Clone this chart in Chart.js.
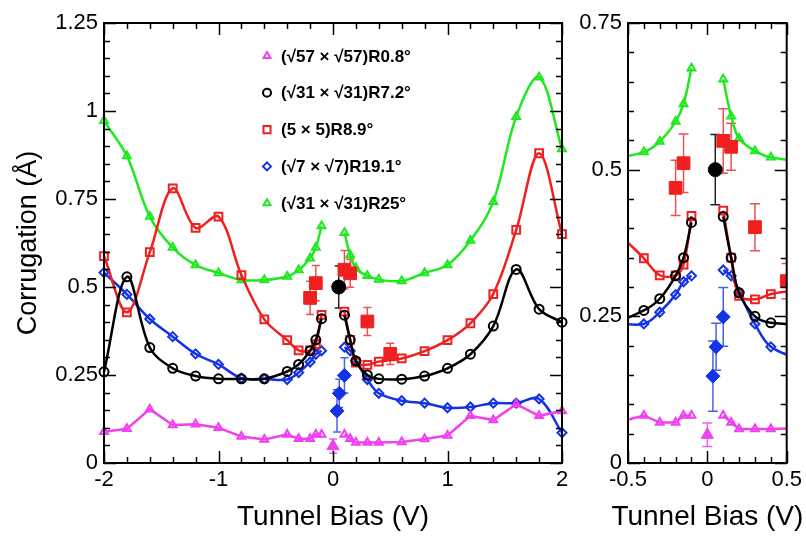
<!DOCTYPE html>
<html><head><meta charset="utf-8">
<script src="https://cdn.jsdelivr.net/npm/chart.js@4/dist/chart.umd.min.js"></script>
<style>
html,body{margin:0;padding:0;background:#fff;width:806px;height:537px;overflow:hidden}
#main{position:absolute;left:0;top:0}
#inset{position:absolute;left:575px;top:0}
</style></head><body>
<canvas id="main" width="575" height="537"></canvas>
<canvas id="inset" width="231" height="537"></canvas>
<script>
// ---- data (tunnel bias in V, corrugation in Å) ----
const bias = [-2,-1.8,-1.6,-1.4,-1.2,-1,-0.8,-0.6,-0.4,-0.3,-0.2,-0.15,-0.1,0.1,0.15,0.2,0.3,0.4,0.6,0.8,1,1.2,1.4,1.6,1.8,2];
const corrR08  = [0.089,0.097,0.153,0.108,0.110,0.100,0.075,0.067,0.081,0.069,0.069,0.081,0.081, 0.081,0.069,0.058,0.058,0.058,0.060,0.068,0.078,0.134,0.122,0.167,0.134,0.148];
const corrR72  = [0.259,0.529,0.328,0.269,0.247,0.239,0.239,0.239,0.260,0.280,0.319,0.350,0.410, 0.420,0.350,0.290,0.250,0.239,0.238,0.247,0.269,0.309,0.389,0.550,0.437,0.400];
const corrR89  = [0.588,0.428,0.599,0.780,0.668,0.700,0.534,0.408,0.349,0.320,0.320,0.338,0.421, 0.430,0.350,0.285,0.279,0.288,0.297,0.318,0.349,0.397,0.480,0.662,0.880,0.650];
const corrR191 = [0.541,0.479,0.409,0.359,0.310,0.280,0.241,0.239,0.237,0.257,0.287,0.309,0.319, 0.329,0.319,0.291,0.237,0.198,0.177,0.170,0.157,0.159,0.170,0.170,0.182,0.086];
const corrR25  = [0.972,0.872,0.700,0.612,0.5625,0.540,0.520,0.520,0.530,0.548,0.582,0.612,0.673, 0.654,0.591,0.553,0.532,0.521,0.517,0.540,0.5625,0.632,0.742,0.984,1.096,0.892];

// experimental points with error bars
const expBiasR08 = [0];            const expR08 = [0.048];          const expErrR08 = [0.02];
const expBiasR72 = [0.05];         const expR72 = [0.50];           const expErrR72 = [0.06];
const expBiasR89 = [-0.2,-0.15,0.1,0.15,0.3,0.5];
const expR89     = [0.469,0.511,0.549,0.539,0.402,0.310];
const expErrR89  = [0.047,0.050,0.055,0.040,0.040,0.030];
const expBiasR191 = [0.035,0.055,0.1]; const expR191 = [0.148,0.198,0.249]; const expErrR191 = [0.06,0.04,0.05];

const legendLabels = ['(\u221A57 \u00D7 \u221A57)R0.8\u00B0','(\u221A31 \u00D7 \u221A31)R7.2\u00B0','(5 \u00D7 5)R8.9\u00B0','(\u221A7 \u00D7 \u221A7)R19.1\u00B0','(\u221A31 \u00D7 \u221A31)R25\u00B0'];
const mainXTickLabels = ['-2','-1','0','1','2'];
const mainYTickLabels = ['0','0.25','0.5','0.75','1','1.25'];
const insetXTickLabels = ['-0.5','0','0.5'];
const insetYTickLabels = ['0','0.25','0.5','0.75'];
const xTitle = 'Tunnel Bias (V)';
const yTitle = 'Corrugation (\u00C5)';

// ---- styles ----
const C = {mag:'#f040f0', blk:'#000000', red:'#f02020', blu:'#1432e6', grn:'#1ee81e'};
const FONT = "'Liberation Sans', Arial, sans-serif";

function toPoints(xs, ys){
  const pts = [];
  xs.forEach((x,i)=>{
    if (i>0 && xs[i-1]<0 && x>0) pts.push({x:0, y:null});
    pts.push({x:x, y:ys[i]});
  });
  return pts;
}
function expPoints(xs, ys){ return xs.map((x,i)=>({x:x, y:ys[i]})); }

const series = [
  {ys:corrR08,  color:C.mag, style:'triangle', r:4.5, tension:0},
  {ys:corrR72,  color:C.blk, style:'circle',   r:4.5, tension:0.35},
  {ys:corrR89,  color:C.red, style:'rect',     r:5.5, tension:0.35},
  {ys:corrR191, color:C.blu, style:'rectRot',  r:4.5, tension:0.35},
  {ys:corrR25,  color:C.grn, style:'triangle', r:4.5, tension:0.35}
];
const exps = [
  {xs:expBiasR08, ys:expR08, err:expErrR08, color:C.mag, bar:'#f060f0', style:'triangle', r:7},
  {xs:expBiasR72, ys:expR72, err:expErrR72, color:C.blk, bar:'#222222', style:'circle', r:7},
  {xs:expBiasR89, ys:expR89, err:expErrR89, color:C.red, bar:'#f05050', style:'rect', r:9},
  {xs:expBiasR191, ys:expR191, err:expErrR191, color:C.blu, bar:'#4a60f0', style:'rectRot', r:7}
];

function buildDatasets(clip){
  const ds = [];
  exps.forEach(e=>{
    ds.push({type:'scatter', data:expPoints(e.xs,e.ys), errorBars:e.err, barColor:e.bar,
      showLine:false, pointStyle:e.style, pointRadius:e.r, backgroundColor:e.color,
      borderColor:e.color, borderWidth:1, clip:clip});
  });
  series.forEach(s=>{
    ds.push({type:'line', data:toPoints(bias, s.ys), borderColor:s.color, backgroundColor:'rgba(255,255,255,0)',
      borderWidth:2.5, tension:s.tension, spanGaps:false, pointStyle:s.style, pointRadius:s.r,
      pointBorderWidth:2, pointBorderColor:s.color, pointBackgroundColor:'rgba(255,255,255,0)', clip:clip});
  });
  return ds;
}

const errorBarPlugin = {
  id:'errorBars',
  beforeDatasetsDraw(chart, args, opts){
    const {ctx} = chart; const y = chart.scales.y;
    ctx.save();
    const ca = chart.chartArea;
    ctx.beginPath(); ctx.rect(ca.left, ca.top, ca.right-ca.left, ca.bottom-ca.top); ctx.clip();
    chart.data.datasets.forEach((d,di)=>{
      if (!d.errorBars) return;
      const meta = chart.getDatasetMeta(di);
      ctx.strokeStyle = d.barColor; ctx.lineWidth = 1.5;
      d.data.forEach((p,i)=>{
        const px = meta.data[i].x;
        const y1 = y.getPixelForValue(p.y + d.errorBars[i]);
        const y2 = y.getPixelForValue(p.y - d.errorBars[i]);
        const w = opts.cap/2;
        ctx.beginPath();
        ctx.moveTo(px,y1); ctx.lineTo(px,y2);
        ctx.moveTo(px-w,y1); ctx.lineTo(px+w,y1);
        ctx.moveTo(px-w,y2); ctx.lineTo(px+w,y2);
        ctx.stroke();
      });
    });
    ctx.restore();
  }
};

const framePlugin = {
  id:'frame',
  afterDraw(chart, args, o){
    const {ctx, chartArea:{left,right,top,bottom}, scales:{x,y}} = chart;
    ctx.save();
    ctx.strokeStyle = '#000'; ctx.lineWidth = 1.5;
    ctx.beginPath();
    const nx = Math.round((o.xMax-o.xMin)/o.xMinor);
    for (let i=0;i<=nx;i++){
      const v = o.xMin + i*o.xMinor;
      const q = v/o.xStep; const major = Math.abs(q-Math.round(q))<1e-6;
      const L = major?12:6; const px = Math.round(x.getPixelForValue(v))+0.5;
      ctx.moveTo(px,bottom); ctx.lineTo(px,bottom-L);
      ctx.moveTo(px,top); ctx.lineTo(px,top+L);
    }
    const ny = Math.round((o.yMax-o.yMin)/o.yMinor);
    for (let i=0;i<=ny;i++){
      const v = o.yMin + i*o.yMinor;
      const q = v/o.yStep; const major = Math.abs(q-Math.round(q))<1e-6;
      const L = major?12:6; const py = Math.round(y.getPixelForValue(v))+0.5;
      ctx.moveTo(left,py); ctx.lineTo(left+L,py);
      ctx.moveTo(right,py); ctx.lineTo(right-L,py);
    }
    ctx.stroke();
    ctx.lineWidth = 2;
    ctx.strokeRect(left, top, right-left, bottom-top);
    // free-running x title (allowed to overflow the canvas edge, as in the source)
    if (o.ownTitle){
      ctx.font = '28px ' + FONT; ctx.fillStyle = '#000';
      ctx.textAlign = 'center'; ctx.textBaseline = 'middle';
      ctx.fillText(xTitle, (left+right)/2, chart.height - 3 - 28*1.2/2);
    }
    ctx.restore();
  }
};

const legendPlugin = {
  id:'customLegend',
  afterDraw(chart, args, o){
    if (!o.show) return;
    const ctx = chart.ctx;
    ctx.save();
    ctx.font = 'bold 17px ' + FONT;
    ctx.textBaseline = 'middle'; ctx.textAlign = 'left'; ctx.fillStyle = '#000';
    series.forEach((s,i)=>{
      const yy = o.y0 + i*o.dy;
      ctx.strokeStyle = s.color; ctx.lineWidth = 2; ctx.fillStyle = 'rgba(255,255,255,0)';
      Chart.helpers.drawPoint(ctx, {pointStyle:s.style, radius:s.r-0.5, borderWidth:2}, o.mx, yy);
      ctx.fillStyle = '#000';
      ctx.fillText(legendLabels[i], o.tx, yy+1);
    });
    ctx.restore();
  }
};

function makeChart(id, cfg){
  const frameOpts = {xMin:cfg.xMin, xMax:cfg.xMax, xStep:cfg.xStep, xMinor:cfg.xMinor,
                     yMin:cfg.yMin, yMax:cfg.yMax, yStep:cfg.yStep, yMinor:cfg.yMinor, ownTitle:cfg.ownTitle};
  return new Chart(document.getElementById(id), {
    data:{datasets:buildDatasets(cfg.clip)},
    options:{
      responsive:false, animation:false, devicePixelRatio:1, events:[],
      layout:{padding:{left:0, top:23, right:cfg.padRight, bottom:0}},
      plugins:{legend:{display:false}, tooltip:{enabled:false},
        frame:frameOpts, errorBars:{cap:cfg.cap}, customLegend:cfg.legend},
      scales:{
        x:{type:'linear', min:cfg.xMin, max:cfg.xMax,
           afterFit(s){ s.height = 74; },
           afterBuildTicks(s){ s.ticks = cfg.xLabels.map((l,i)=>({value: cfg.xMin + i*cfg.xStep})); },
           ticks:{stepSize:cfg.xStep, padding:4, color:'#000', font:{size:22, family:FONT},
                  maxRotation:0, autoSkip:false, callback:(v,i)=>cfg.xLabels[i]},
           grid:{display:false, drawTicks:false}, border:{display:false},
           title:{display:!cfg.ownTitle, text:xTitle, color:'#000', font:{size:28, family:FONT}, padding:{top:0,bottom:3}}},
        y:{type:'linear', min:cfg.yMin, max:cfg.yMax,
           afterFit(s){ s.width = cfg.leftW; },
           afterBuildTicks(s){ s.ticks = cfg.yLabels.map((l,i)=>({value: cfg.yMin + i*cfg.yStep})); },
           ticks:{stepSize:cfg.yStep, padding:6, color:'#000', font:{size:22, family:FONT},
                  autoSkip:false, callback:(v,i)=>cfg.yLabels[i]},
           grid:{display:false, drawTicks:false}, border:{display:false},
           title:{display:cfg.yTitle, text:yTitle, color:'#000', font:{size:27, family:FONT}, padding:{top:12,bottom:0}}}
      }
    },
    plugins:[errorBarPlugin, framePlugin, legendPlugin]
  });
}

makeChart('main', {xMin:-2, xMax:2, xStep:1, xMinor:0.2, yMin:0, yMax:1.25, yStep:0.25, yMinor:0.05,
  xLabels:mainXTickLabels, yLabels:mainYTickLabels, padRight:13, leftW:104, yTitle:true, cap:8, clip:false,
  ownTitle:false, legend:{show:true, mx:267, tx:281, y0:56, dy:36.8}});
makeChart('inset', {xMin:-0.5, xMax:0.5, xStep:0.5, xMinor:0.1, yMin:0, yMax:0.75, yStep:0.25, yMinor:0.05,
  xLabels:insetXTickLabels, yLabels:insetYTickLabels, padRight:14, leftW:53, yTitle:false, cap:10, clip:0,
  ownTitle:true, legend:{show:false}});
</script>
</body></html>
